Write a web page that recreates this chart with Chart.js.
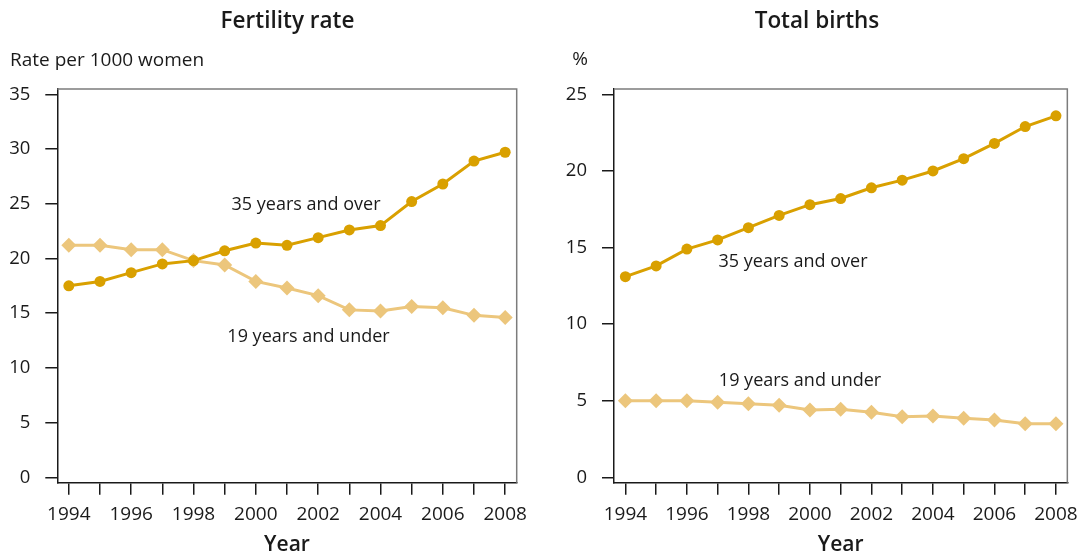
<!DOCTYPE html>
<html>
<head>
<meta charset="utf-8">
<title>Fertility rate and total births by mother's age, 1994–2008</title>
<script src="https://cdn.jsdelivr.net/npm/chart.js@4/dist/chart.umd.min.js"></script>
<style>
  html, body { margin: 0; padding: 0; background: #ffffff; }
  #wrap { position: relative; width: 1086px; height: 558px; overflow: hidden; }
  #wrap canvas { position: absolute; top: 0; }
</style>
</head>
<body>
<div id="wrap">
  <canvas id="fertility" width="543" height="558" style="left:0px"></canvas>
  <canvas id="births" width="543" height="558" style="left:543px"></canvas>
</div>
<script>
// ---- data ----
const years = [1994, 1995, 1996, 1997, 1998, 1999, 2000, 2001, 2002, 2003, 2004, 2005, 2006, 2007, 2008];

// Fertility rate, per 1000 women in each age group
const fertilityOver35  = [17.5, 17.9, 18.7, 19.5, 19.8, 20.7, 21.4, 21.2, 21.9, 22.6, 23.0, 25.2, 26.8, 28.9, 29.7];
const fertilityUnder19 = [21.2, 21.2, 20.8, 20.8, 19.8, 19.4, 17.9, 17.3, 16.6, 15.3, 15.2, 15.6, 15.5, 14.8, 14.6];

// Share of total births, %
const birthsOver35  = [13.1, 13.8, 14.9, 15.5, 16.3, 17.1, 17.8, 18.2, 18.9, 19.4, 20.0, 20.8, 21.8, 22.9, 23.6];
const birthsUnder19 = [5.0, 5.0, 5.0, 4.9, 4.8, 4.7, 4.4, 4.45, 4.25, 3.95, 4.0, 3.85, 3.75, 3.5, 3.5];

// tick values and labels
const yearTickLabels = ['1994', '1996', '1998', '2000', '2002', '2004', '2006', '2008'];
const fertilityTicks = [0, 5, 10, 15, 20, 25, 30, 35];
const birthsTicks    = [0, 5, 10, 15, 20, 25];

// ---- styling ----
const FONT = "'Open Sans', 'Noto Sans', 'DejaVu Sans', sans-serif";
const INK = '#1a1a1a';
const GOLD = '#d9a000';
const SAND = '#ecc67c';

// frame on the top/right edges of the plot plus free-standing text
const framePlugin = {
  id: 'frameAndText',
  beforeDatasetsDraw(chart) {
    const { ctx, chartArea: a } = chart;
    ctx.save();
    ctx.strokeStyle = '#7c7c7c';
    ctx.lineWidth = 1.5;
    ctx.beginPath();
    ctx.moveTo(a.left, a.top);
    ctx.lineTo(a.right, a.top);
    ctx.lineTo(a.right, a.bottom);
    ctx.stroke();
    ctx.restore();
  },
  afterDraw(chart, args, opts) {
    const { ctx } = chart;
    ctx.save();
    ctx.fillStyle = INK;
    ctx.textBaseline = 'alphabetic';
    (opts.texts || []).forEach(t => {
      ctx.font = `${t.weight || 'normal'} ${t.size}px ${FONT}`;
      ctx.textAlign = t.align || 'center';
      ctx.fillText(t.text, t.x, t.y);
    });
    ctx.restore();
  }
};

function makeChart(id, cfg) {
  return new Chart(document.getElementById(id), {
    type: 'line',
    data: {
      datasets: [
        {
          label: '35 years and over',
          data: years.map((y, i) => ({ x: y, y: cfg.over35[i] })),
          borderColor: GOLD,
          backgroundColor: GOLD,
          borderWidth: 3,
          pointStyle: 'circle',
          pointRadius: 5.5,
          pointBorderWidth: 0,
          tension: 0
        },
        {
          label: '19 years and under',
          data: years.map((y, i) => ({ x: y, y: cfg.under19[i] })),
          borderColor: SAND,
          backgroundColor: SAND,
          borderWidth: 3,
          pointStyle: 'rectRot',
          pointRadius: 7.5,
          pointBorderWidth: 0,
          tension: 0
        }
      ]
    },
    options: {
      responsive: false,
      animation: false,
      devicePixelRatio: 1,
      layout: { padding: { left: 0, top: 89, right: cfg.padRight, bottom: 0 } },
      plugins: {
        legend: { display: false },
        tooltip: { enabled: false },
        frameAndText: { texts: cfg.texts }
      },
      scales: {
        x: {
          type: 'linear',
          min: 1993.63,
          max: 2008.37,
          afterBuildTicks: s => { s.ticks = years.map(v => ({ value: v })); },
          afterFit: s => { s.height = 75.3; },
          grid: { drawOnChartArea: false, drawTicks: true, tickLength: 12, color: INK, lineWidth: 1.5 },
          border: { display: true, color: INK, width: 1.5 },
          ticks: {
            font: { family: FONT, size: 19 },
            color: INK,
            padding: 8,
            maxRotation: 0,
            autoSkip: false,
            callback: v => (yearTickLabels.includes(String(v)) ? String(v) : '')
          },
          title: {
            display: true,
            text: 'Year',
            color: INK,
            font: { family: FONT, size: 21, weight: '600' },
            padding: { top: 0, bottom: 0 }
          }
        },
        y: {
          type: 'linear',
          min: cfg.yMin,
          max: cfg.yMax,
          afterBuildTicks: s => { s.ticks = cfg.yTicks.map(v => ({ value: v })); },
          afterFit: s => { s.width = cfg.axisWidth; },
          grid: { drawOnChartArea: false, drawTicks: true, tickLength: 12, color: INK, lineWidth: 1.5 },
          border: { display: true, color: INK, width: 1.5 },
          ticks: { font: { family: FONT, size: 18.5 }, color: INK, padding: 15 }
        }
      }
    },
    plugins: [framePlugin]
  });
}

makeChart('fertility', {
  over35: fertilityOver35,
  under19: fertilityUnder19,
  yTicks: fertilityTicks,
  yMin: -0.49,
  yMax: 35.48,
  axisWidth: 57.3,
  padRight: 26.3,
  texts: [
    { text: 'Fertility rate', x: 287.5, y: 28, size: 22.5, weight: '600' },
    { text: 'Rate per 1000 women', x: 10, y: 65.5, size: 19, align: 'left' },
    { text: '35 years and over', x: 306, y: 210, size: 18 },
    { text: '19 years and under', x: 308.5, y: 341.5, size: 18 }
  ]
});

makeChart('births', {
  over35: birthsOver35,
  under19: birthsUnder19,
  yTicks: birthsTicks,
  yMin: -0.35,
  yMax: 25.35,
  axisWidth: 71,
  padRight: 12.7,
  texts: [
    { text: 'Total births', x: 274, y: 28, size: 22.5, weight: '600' },
    { text: '%', x: 37, y: 65, size: 19 },
    { text: '35 years and over', x: 250, y: 266.5, size: 18 },
    { text: '19 years and under', x: 257, y: 386, size: 18 }
  ]
});
</script>
</body>
</html>
